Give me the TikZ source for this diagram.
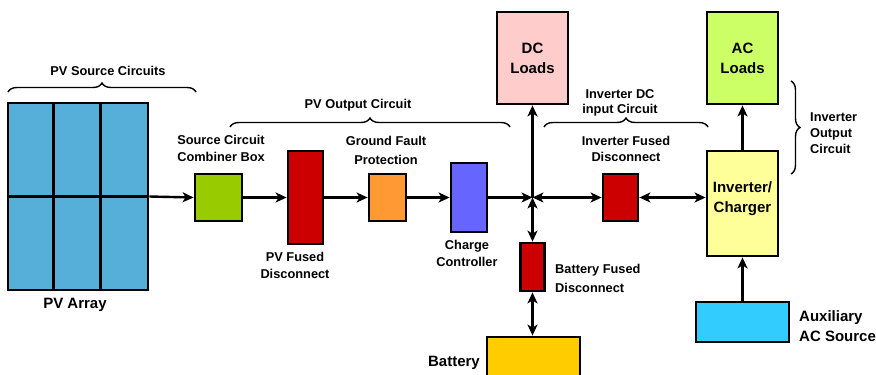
\documentclass[tikz,border=0pt]{standalone}
\usepackage{fontspec}
\setmainfont{Liberation Sans}
\usetikzlibrary{arrows.meta,decorations.pathreplacing}
\definecolor{pvblue}{RGB}{85,175,216}
\definecolor{combgreen}{HTML}{99CC00}
\definecolor{fusered}{HTML}{CC0000}
\definecolor{gforange}{HTML}{FF9933}
\definecolor{ccblue}{HTML}{6666FF}
\definecolor{dcpink}{HTML}{FFCCCC}
\definecolor{aclime}{HTML}{CCFF66}
\definecolor{invyellow}{HTML}{FFFF99}
\definecolor{auxcyan}{HTML}{33CCFF}
\definecolor{batgold}{HTML}{FFCC00}
\begin{document}
\begin{tikzpicture}[x=1pt,y=-1pt,
  box/.style={draw=black,line width=2.8pt,inner sep=0pt,rectangle},
  flow/.style={line width=2.4pt,-{Stealth[length=11pt,width=10pt,inset=3pt]}},
  dflow/.style={line width=2.4pt,{Stealth[length=11pt,width=10pt,inset=3pt]}-{Stealth[length=11pt,width=10pt,inset=3pt]}},
  lbl/.style={font=\bfseries\fontsize{12.8}{17}\selectfont,align=center,inner sep=0pt},
  big/.style={font=\bfseries\fontsize{15}{20}\selectfont,align=center,inner sep=0pt},
  brc/.style={line width=1.4pt,decorate,decoration={brace,amplitude=9pt}}]
\useasboundingbox (0,0) rectangle (876,375);
% boxes
\node[box,fill=pvblue,minimum width=140pt,minimum height=187pt] (pv) at (78,196.5) {};
\draw[line width=2.8pt] (pv.north west) ++(47,0) coordinate (g1) -- (g1 |- pv.south);
\draw[line width=2.8pt] (pv.north west) ++(94,0) coordinate (g2) -- (g2 |- pv.south);
\draw[line width=2.8pt] (pv.west) -- (pv.east);
\node[box,fill=combgreen,minimum width=47pt,minimum height=47pt] (comb) at (218.5,197.5) {};
\node[box,fill=fusered,minimum width=35pt,minimum height=93pt] (pvf) at (305.5,197.5) {};
\node[box,fill=gforange,minimum width=37pt,minimum height=47pt] (gfp) at (387.5,197.5) {};
\node[box,fill=ccblue,minimum width=36pt,minimum height=69pt] (cc) at (469,197.5) {};
\coordinate (j) at (532.5,197.5);
\node[box,fill=dcpink,minimum width=71pt,minimum height=92pt,big] (dcl) at (532.5,58) {DC\\Loads};
\node[box,fill=fusered,minimum width=35pt,minimum height=47pt] (invf) at (620.5,197.5) {};
\node[box,fill=invyellow,minimum width=71pt,minimum height=105pt] (inv) at (742.5,203.5) {};
\node[big] (tinv) at (742.5,199) {Inverter/\\Charger};
\node[box,fill=aclime,minimum width=71pt,minimum height=92pt,big] (acl) at (742.5,58) {AC\\Loads};
\node[box,fill=auxcyan,minimum width=93pt,minimum height=40pt] (aux) at (742.5,322) {};
\node[box,fill=fusered,minimum width=24pt,minimum height=48pt] (batf) at (532.5,267) {};
\node[box,fill=batgold,minimum width=93pt,minimum height=52pt] (bat) at (533.5,363) {};
% connectors
\draw[flow] (pv.east) -- (comb.west);
\draw[flow] (comb.east) -- (pvf.west);
\draw[flow] (pvf.east) -- (gfp.west);
\draw[flow] (gfp.east) -- (cc.west);
\draw[flow] (cc.east) -- (j);
\draw[flow] (j) -- (dcl.south);
\draw[dflow] (j) -- (invf.west);
\draw[dflow] (invf.east) -- (inv.west |- invf.east);
\draw[dflow] (j) -- (batf.north);
\draw[dflow] (batf.south) -- (batf.south |- bat.north);
\draw[flow] (aux.north) -- (inv.south);
\draw[flow] (inv.north) -- (acl.south);
% braces
\coordinate (b1a) at (8,92); \coordinate (b1b) at (196,92);
\draw[brc] (b1a) -- (b1b);
\coordinate (b2a) at (230,127); \coordinate (b2b) at (510,127);
\draw[brc] (b2a) -- (b2b);
\coordinate (b3a) at (544,127); \coordinate (b3b) at (708,127);
\draw[brc] (b3a) -- (b3b);
\coordinate (b4a) at (791,81); \coordinate (b4b) at (791,174);
\draw[brc] (b4a) -- (b4b);
% labels
\node[lbl] (tpvs) at (108,71) {PV Source Circuits};
\node[lbl] (tpvo) at (358,105) {PV Output Circuit};
\node[lbl] (tcomb) at (221,148.5) {Source Circuit\\Combiner Box};
\node[lbl] (tpvf) at (295,265) {PV Fused\\Disconnect};
\node[lbl,font=\bfseries\fontsize{12.8}{19}\selectfont] (tgfp) at (386,150.5) {Ground Fault\\Protection};
\node[lbl] (tcc) at (467,253) {Charge\\Controller};
\node[lbl,font=\bfseries\fontsize{12.8}{15}\selectfont] (tidc) at (620,102.5) {Inverter DC\\input Circuit};
\node[lbl,font=\bfseries\fontsize{12.8}{16}\selectfont] (tinvf) at (626,149) {Inverter Fused\\Disconnect};
\node[lbl,align=left,anchor=west,font=\bfseries\fontsize{12.8}{19}\selectfont] (tbatf) at (555,278) {Battery Fused\\Disconnect};
\node[lbl,align=left,anchor=west,font=\bfseries\fontsize{12.8}{16}\selectfont] (tiout) at (810,133) {Inverter\\Output\\Circuit};
\node[big,align=left,anchor=west] (taux) at (799,326.5) {Auxiliary\\AC Source};
\node[big,anchor=east] (tbat) at (480,363) {Battery};
\node[big] (tpv) at (75,305) {PV Array};
\end{tikzpicture}
\end{document}
